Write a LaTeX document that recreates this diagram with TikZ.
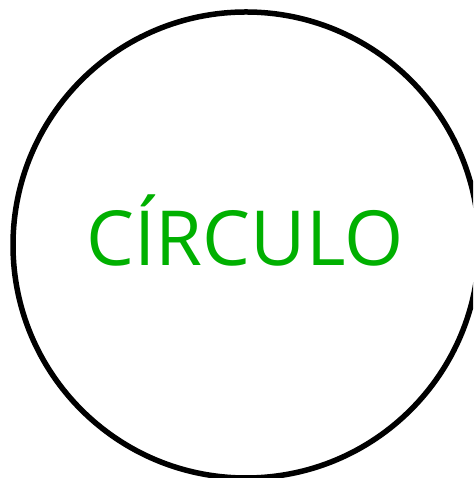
\documentclass[tikz,border=0pt]{standalone}
\usepackage{fontspec}
\setmainfont{Open Sans}
\definecolor{txtgreen}{RGB}{0,176,0}
\begin{document}
\begin{tikzpicture}[x=1pt,y=1pt,
  ring/.style={draw=black,line width=5.5pt},
  lbl/.style={text=txtgreen,font=\fontsize{76}{82}\selectfont,inner sep=0pt,anchor=base}]
\useasboundingbox (0,0) rectangle (473,478);
\clip (0,0) rectangle (473,478);
\fill[white] (0,0) rectangle (473,478);
\node[ring,circle,minimum size=466pt,inner sep=0pt] (c) at (246,233) {};
\node[lbl] (t) at (245,212) {CÍRCULO};
\end{tikzpicture}
\end{document}
